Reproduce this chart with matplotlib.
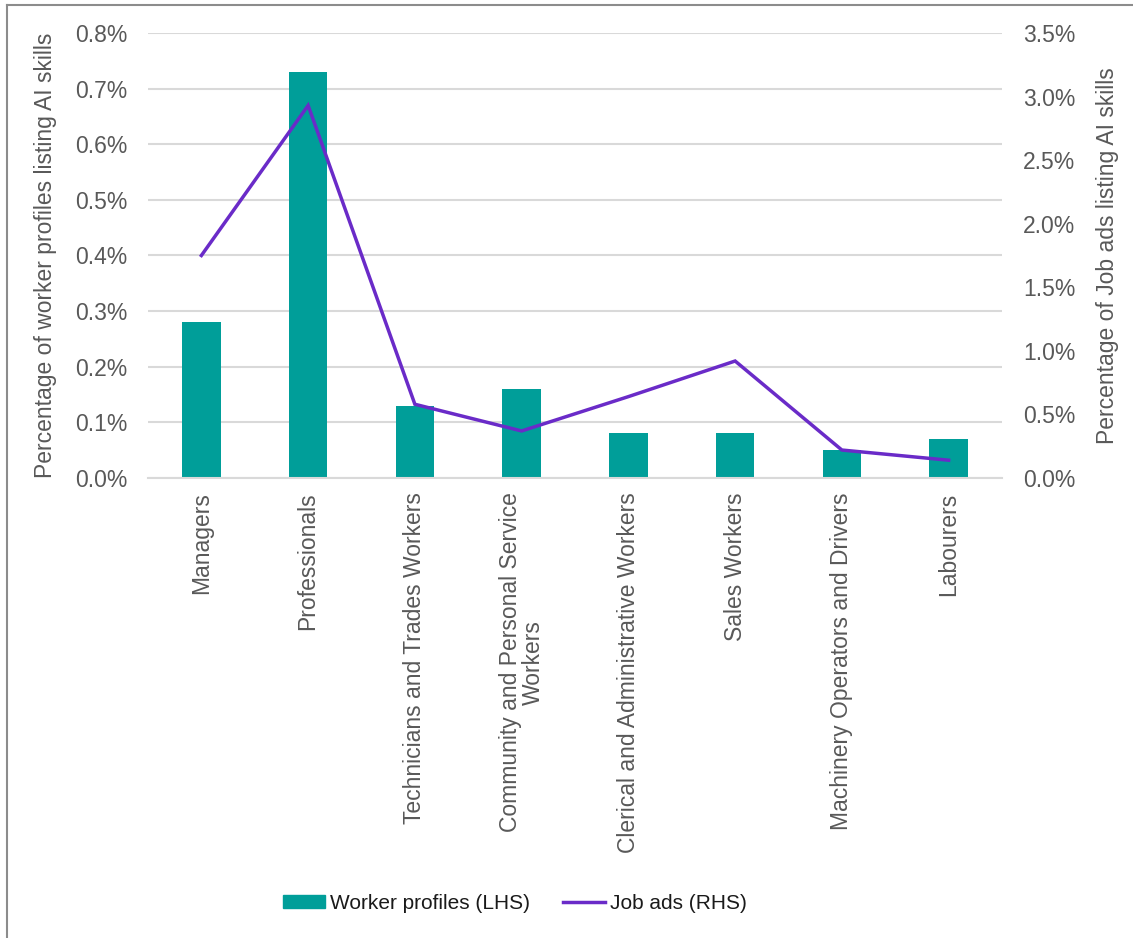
import matplotlib
matplotlib.use("Agg")
import matplotlib.pyplot as plt
from matplotlib.lines import Line2D
from matplotlib.ticker import FuncFormatter, MultipleLocator
import numpy as np

plt.rcParams["font.family"] = ["Liberation Sans", "DejaVu Sans"]

categories = [
    "Managers",
    "Professionals",
    "Technicians and Trades Workers",
    "Community and Personal Service\nWorkers",
    "Clerical and Administrative Workers",
    "Sales Workers",
    "Machinery Operators and Drivers",
    "Labourers",
]
worker_profiles = [0.28, 0.73, 0.13, 0.16, 0.08, 0.08, 0.05, 0.07]   # % (LHS)
job_ads = [1.75, 2.93, 0.58, 0.37, 0.64, 0.92, 0.22, 0.14]           # % (RHS)

TEAL = "#009E99"
PURPLE = "#6A2BC8"
TEXT = "#595959"
GRID = "#D9D9D9"
FS = 16.5

W, H = 1133, 938
fig = plt.figure(figsize=(W / 100, H / 100), dpi=100)
L, R, T, B = 148, 1002, 33, 478
ax = fig.add_axes([L / W, 1 - B / H, (R - L) / W, (B - T) / H])
ax2 = ax.twinx()

x = np.arange(len(categories))
ax.bar(x, worker_profiles, width=0.36, color=TEAL, zorder=2)
ax.set_xlim(-0.5, len(categories) - 0.5)
ax.set_ylim(0, 0.8)
ax.yaxis.set_major_locator(MultipleLocator(0.1))
ax.yaxis.set_major_formatter(FuncFormatter(lambda v, p: f"{v:.1f}%"))
ax.grid(axis="y", color=GRID, linewidth=1.5, zorder=0)
ax.set_axisbelow(True)

ax2.plot(x, job_ads, color=PURPLE, linewidth=2.5, solid_joinstyle="miter", zorder=3)
ax2.set_ylim(0, 3.5)
ax2.yaxis.set_major_locator(MultipleLocator(0.5))
ax2.yaxis.set_major_formatter(FuncFormatter(lambda v, p: f"{v:.1f}%"))

for a in (ax, ax2):
    for s in a.spines.values():
        s.set_visible(False)
    a.tick_params(axis="both", length=0, colors=TEXT, labelsize=FS)

ax.spines["bottom"].set_visible(True)
ax.spines["bottom"].set_color(GRID)
ax.spines["bottom"].set_linewidth(1.5)

ax.set_xticks(x)
ax.set_xticklabels(categories, rotation=90, ha="center", va="top",
                   multialignment="center", fontsize=FS, color=TEXT,
                   linespacing=1.0)
ax.tick_params(axis="x", pad=10.5)
ax.tick_params(axis="y", pad=15)
ax2.tick_params(axis="y", pad=15)

ax.set_ylabel("Percentage of worker profiles listing AI skills",
              fontsize=FS, color=TEXT)
ax2.set_ylabel("Percentage of Job ads listing AI skills",
               fontsize=FS, color=TEXT)
ax.yaxis.set_label_coords((57 - L) / (R - L), 0.5)
ax2.yaxis.set_label_coords((1096 - L) / (R - L), 0.5)

handles = [
    plt.Rectangle((0, 0), 1, 1, color=TEAL),
    Line2D([0], [0], color=PURPLE, linewidth=2.5),
]
fig.legend(handles, ["Worker profiles (LHS)", "Job ads (RHS)"],
           loc="center", bbox_to_anchor=(515 / W, 1 - 903 / H), ncol=2,
           frameon=False, fontsize=15, handlelength=2.0, handleheight=0.6,
           handletextpad=0.25, columnspacing=1.6, labelcolor="#1A1A1A")

# chart frame edges (top and left)
fig.add_artist(Line2D([7 / W, 7 / W], [0, 1 - 5 / H], transform=fig.transFigure,
                      color="#8C8C8C", linewidth=1.5))
fig.add_artist(Line2D([7 / W, 1], [1 - 5 / H, 1 - 5 / H], transform=fig.transFigure,
                      color="#8C8C8C", linewidth=1.5))

fig.savefig("out.png", dpi=100, facecolor="white")
